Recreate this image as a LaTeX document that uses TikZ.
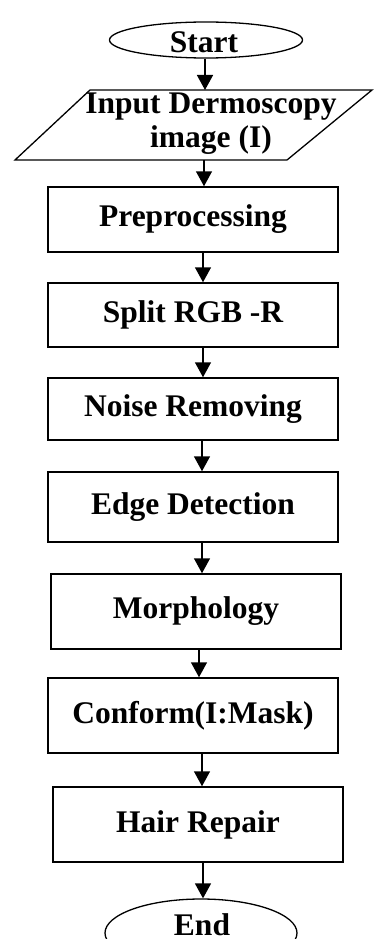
\documentclass[tikz,border=0pt]{standalone}
\usepackage{fontspec}
\setmainfont{Liberation Serif}
\usetikzlibrary{shapes.geometric,arrows.meta}
\begin{document}
\begin{tikzpicture}[x=1pt,y=-1pt,
  every node/.style={font=\fontsize{31.5}{35}\selectfont\bfseries, inner sep=0pt},
  box/.style={draw, line width=1.5pt, rectangle, minimum width=290pt},
  term/.style={draw, line width=1.3pt, ellipse},
  arr/.style={line width=1.5pt, -{Triangle[length=15pt,width=16pt]}}]
\clip (0,0) rectangle (374,939);
\fill[white] (0,0) rectangle (374,939);
% start
\node[term, minimum width=193pt, minimum height=36pt] (start) at (206,40) {};
\node (starttxt) at (204,42) {Start};
% input parallelogram
\draw[line width=1.3pt] (90,90) -- (372,90) -- (287,160) -- (15,160) -- cycle;
\coordinate (inT) at (205,90);
\coordinate (inB) at (204,160);
\node[align=center] (inp) at (211,124) {Input Dermoscopy\\[-1pt]image (I)};
% boxes
\node[box, minimum height=65pt] (pre) at (193,219.5) {Preprocessing};
\node[box, minimum height=64pt] (split) at (193,315) {Split RGB -R};
\node[box, minimum height=62pt] (noise) at (193,409) {Noise Removing};
\node[box, minimum height=70pt] (edge) at (193,507) {Edge Detection};
\node[box, minimum height=75pt] (morph) at (196,611.5) {Morphology};
\node[box, minimum height=75pt] (conf) at (193,715.5) {Conform(I:Mask)};
\node[box, minimum height=75pt] (hair) at (198,824.5) {Hair Repair};
% end
\node[term, minimum width=192pt, minimum height=68pt] (end) at (201,933) {};
\node (endtxt) at (202,925) {End};
% arrows
\draw[arr] (start.south -| inT) -- (inT);
\draw[arr] (inB) -- (pre.north -| inB);
\draw[arr] (pre.south -| 203,0) -- (split.north -| 203,0);
\draw[arr] (split.south -| 203,0) -- (noise.north -| 203,0);
\draw[arr] (noise.south -| 202,0) -- (edge.north -| 202,0);
\draw[arr] (edge.south -| 202,0) -- (morph.north -| 202,0);
\draw[arr] (morph.south -| 199,0) -- (conf.north -| 199,0);
\draw[arr] (conf.south -| 202,0) -- (hair.north -| 202,0);
\draw[arr] (hair.south -| 203,0) -- (end.north -| 203,0);
\end{tikzpicture}
\end{document}
